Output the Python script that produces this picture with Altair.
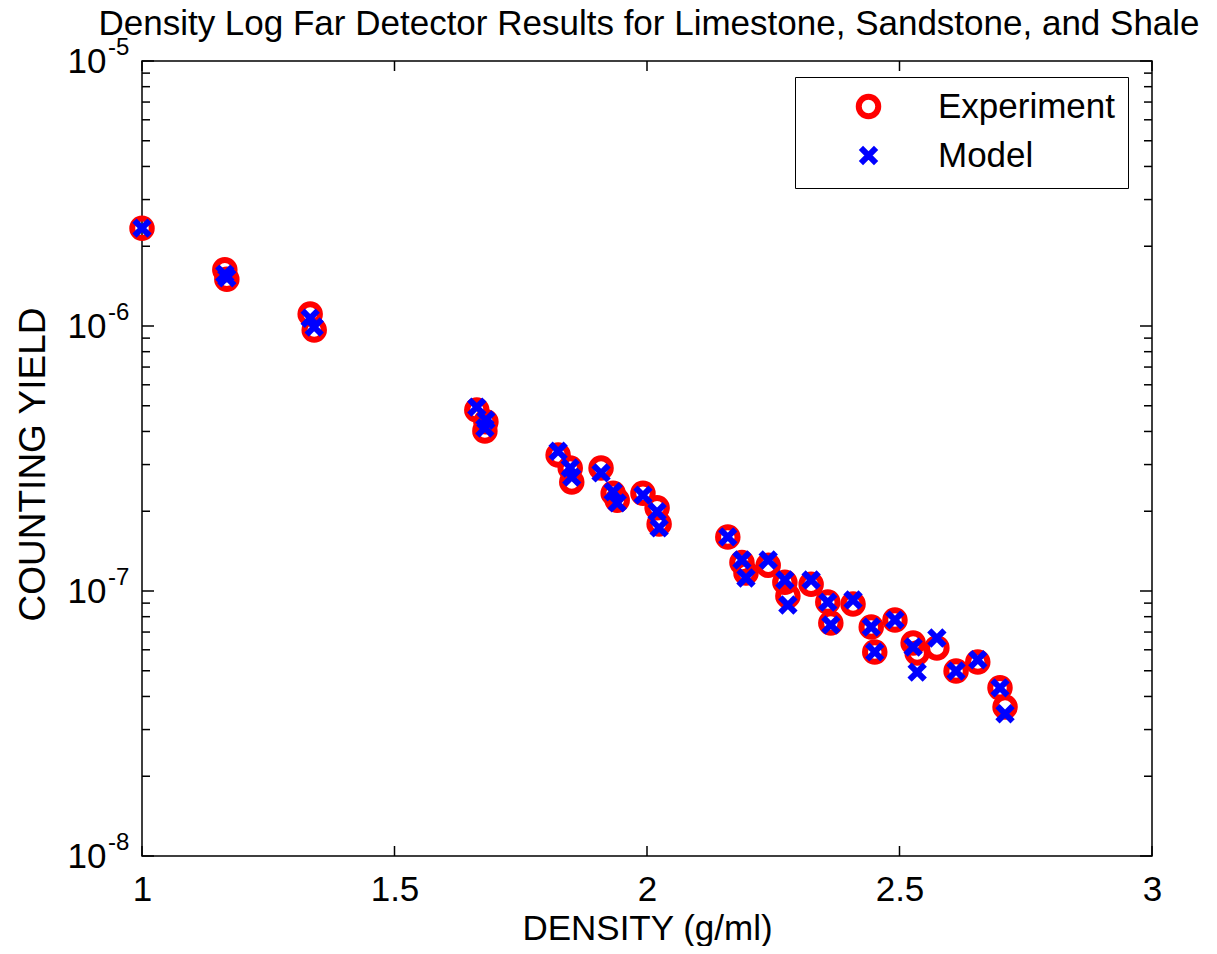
import altair as alt
import pandas as pd

FONT = "Liberation Sans"

# ---- data ----
title_text = ["Density Log Far Detector Results for Limestone, Sandstone, and Shale"]

density = [1.000, 1.164, 1.168, 1.333, 1.341, 1.663, 1.681, 1.679, 1.824, 1.848,
           1.851, 1.909, 1.933, 1.941, 1.992, 2.020, 2.024, 2.160, 2.188, 2.196,
           2.240, 2.273, 2.279, 2.325, 2.358, 2.364, 2.408, 2.444, 2.451, 2.491,
           2.527, 2.535, 2.574, 2.612, 2.655, 2.699, 2.709]

experiment = [2.34e-6, 1.63e-6, 1.50e-6, 1.11e-6, 9.66e-7, 4.82e-7, 4.35e-7, 4.02e-7, 3.26e-7, 2.91e-7,
              2.58e-7, 2.91e-7, 2.34e-7, 2.20e-7, 2.34e-7, 2.06e-7, 1.79e-7, 1.60e-7, 1.28e-7, 1.17e-7,
              1.25e-7, 1.08e-7, 9.57e-8, 1.06e-7, 9.08e-8, 7.57e-8, 8.93e-8, 7.31e-8, 5.89e-8, 7.78e-8,
              6.37e-8, 5.83e-8, 6.10e-8, 4.99e-8, 5.40e-8, 4.31e-8, 3.65e-8]

model = [2.34e-6, 1.57e-6, 1.52e-6, 1.07e-6, 9.91e-7, 4.94e-7, 4.42e-7, 4.12e-7, 3.37e-7, 2.91e-7,
         2.69e-7, 2.79e-7, 2.37e-7, 2.15e-7, 2.30e-7, 1.99e-7, 1.73e-7, 1.60e-7, 1.31e-7, 1.12e-7,
         1.31e-7, 1.10e-7, 8.85e-8, 1.10e-7, 9.08e-8, 7.45e-8, 9.25e-8, 7.31e-8, 5.89e-8, 7.78e-8,
         6.15e-8, 4.94e-8, 6.65e-8, 4.99e-8, 5.50e-8, 4.31e-8, 3.44e-8]

series_names = ["Experiment", "Model"]
x_ticks = [1, 1.5, 2, 2.5, 3]
y_major = [1e-8, 1e-7, 1e-6, 1e-5]
y_exponents = ["-8", "-7", "-6", "-5"]
y_minor = [2e-8, 3e-8, 4e-8, 5e-8, 6e-8, 7e-8, 8e-8, 9e-8,
           2e-7, 3e-7, 4e-7, 5e-7, 6e-7, 7e-7, 8e-7, 9e-7,
           2e-6, 3e-6, 4e-6, 5e-6, 6e-6, 7e-6, 8e-6, 9e-6]

rows = [{"density": d, "yield": v, "series": "Experiment"} for d, v in zip(density, experiment)]
rows += [{"density": d, "yield": v, "series": "Model"} for d, v in zip(density, model)]
df = pd.DataFrame(rows)

xt_df = pd.DataFrame({"density": x_ticks})
ymaj_df = pd.DataFrame({"yield": y_major, "exp": y_exponents})
ymin_df = pd.DataFrame({"yield": y_minor})
title_df = pd.DataFrame({"t": title_text})

W, H = 1010, 795
X_PATH = "M-1,-1L1,1M1,-1L-1,1"

xscale = alt.Scale(domain=[1, 3], nice=False, zero=False)
yscale = alt.Scale(type="log", domain=[1e-8, 1e-5], nice=False)

xaxis = alt.Axis(values=x_ticks, format="~g", grid=False, ticks=False, tickSize=0, domain=False,
                 labelFontSize=35, labelFont=FONT, labelColor="black", labelPadding=16,
                 labelFlush=False, labelOverlap=False,
                 title="DENSITY (g/ml)", titleFontSize=35, titleFont=FONT, titleFontWeight="normal",
                 titleColor="black", titleY=83, titleBaseline="alphabetic")
yaxis = alt.Axis(values=y_major, labelExpr="'10'", grid=False, ticks=False, tickSize=0, domain=False,
                 labelFontSize=35, labelFont=FONT, labelColor="black", labelPadding=36,
                 labelFlush=False, labelOverlap=False,
                 title="COUNTING YIELD", titleFontSize=37, titleFont=FONT, titleFontWeight="normal",
                 titleColor="black", titleX=-98, titleY=403, titleBaseline="alphabetic",
                 titleAlign="center", titleAngle=270)

X = alt.X("density:Q", scale=xscale, axis=xaxis)
Y = alt.Y("yield:Q", scale=yscale, axis=yaxis)

leg = alt.Legend(title=None, orient="none", legendX=653, legendY=16, padding=12, rowPadding=6,
                 symbolOffset=44, labelOffset=52, labelFontSize=35, labelFont=FONT,
                 labelColor="black", labelLimit=400, strokeColor="black", fillColor="white",
                 symbolStrokeWidth=6)

points = alt.Chart(df).mark_point(filled=False, strokeWidth=6, opacity=1).encode(
    x=X, y=Y,
    color=alt.Color("series:N", scale=alt.Scale(domain=series_names, range=["#ff0000", "#0000ff"]), legend=leg),
    shape=alt.Shape("series:N", scale=alt.Scale(domain=series_names, range=["circle", X_PATH]), legend=leg),
    size=alt.Size("series:N", scale=alt.Scale(domain=series_names, range=[380, 230]), legend=leg),
)

tick_style = dict(color="black", strokeWidth=1.5)

xt_bottom = alt.Chart(xt_df).mark_rule(**tick_style).encode(x=X, y=alt.value(H), y2=alt.value(H - 10))
xt_top = alt.Chart(xt_df).mark_rule(**tick_style).encode(x=X, y=alt.value(0), y2=alt.value(10))
ymaj_left = alt.Chart(ymaj_df).mark_rule(**tick_style).encode(y=Y, x=alt.value(0), x2=alt.value(12))
ymaj_right = alt.Chart(ymaj_df).mark_rule(**tick_style).encode(y=Y, x=alt.value(W), x2=alt.value(W - 12))
ymin_left = alt.Chart(ymin_df).mark_rule(**tick_style).encode(y=Y, x=alt.value(0), x2=alt.value(8))
ymin_right = alt.Chart(ymin_df).mark_rule(**tick_style).encode(y=Y, x=alt.value(W), x2=alt.value(W - 8))

exps = alt.Chart(ymaj_df).mark_text(align="left", baseline="middle", dy=-13, fontSize=24,
                                    font=FONT, color="black").encode(
    y=Y, x=alt.value(-34), text="exp:N")

title_mark = alt.Chart(title_df).mark_text(align="center", baseline="alphabetic", fontSize=35,
                                           font=FONT, color="black").encode(
    text="t:N", x=alt.value(W / 2 + 2), y=alt.value(-26))

chart = alt.layer(
    xt_bottom, xt_top, ymaj_left, ymaj_right, ymin_left, ymin_right, exps, title_mark, points
).properties(
    width=W, height=H,
    autosize=alt.AutoSizeParams(type="none"),
    padding={"left": 134, "top": 53, "right": 57, "bottom": 90},
    background="white",
).configure_view(stroke="black", strokeWidth=1.5)

chart.save("out.html", embed_options={"renderer": "svg", "actions": False})
